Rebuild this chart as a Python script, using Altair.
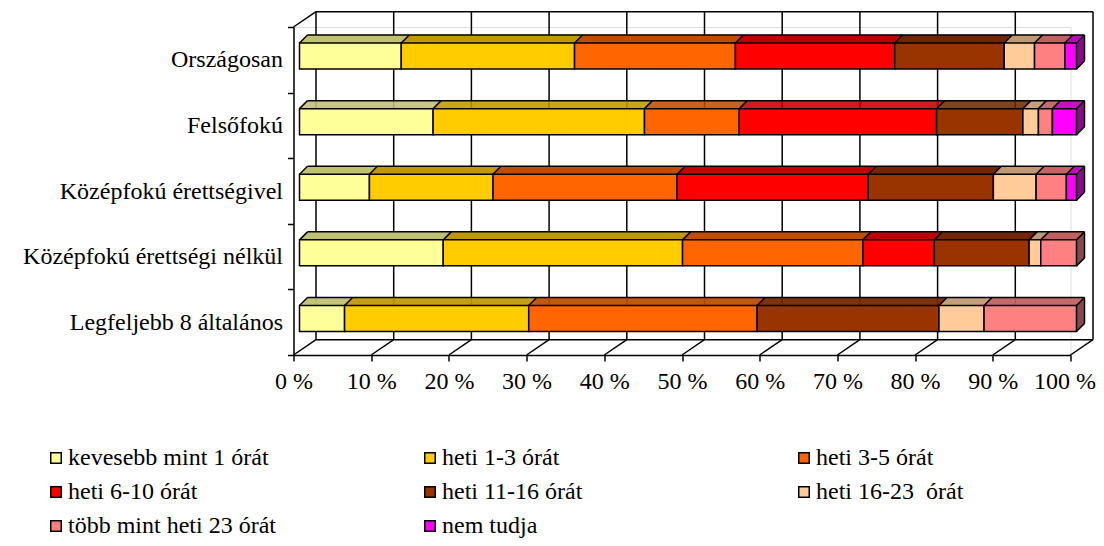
import altair as alt
import pandas as pd

# ---------------- data ----------------
categories = [
    "Országosan",
    "Felsőfokú",
    "Középfokú érettségivel",
    "Középfokú érettségi nélkül",
    "Legfeljebb 8 általános",
]
series = [
    "kevesebb mint 1 órát",
    "heti 1-3 órát",
    "heti 3-5 órát",
    "heti 6-10 órát",
    "heti 11-16 órát",
    "heti 16-23\u00a0 órát",
    "több mint heti 23 órát",
    "nem tudja",
]
v_kevesebb = [13.1, 17.2, 9.0, 18.5, 5.8]
v_1_3 = [22.3, 27.2, 15.9, 30.8, 23.7]
v_3_5 = [20.7, 12.2, 23.7, 23.2, 29.4]
v_6_10 = [20.5, 25.4, 24.6, 9.2, 0.0]
v_11_16 = [14.1, 11.1, 16.1, 12.2, 23.4]
v_16_23 = [3.9, 2.0, 5.5, 1.5, 5.8]
v_tobb = [3.9, 1.8, 3.9, 4.6, 11.9]
v_nem = [1.5, 3.1, 1.3, 0.0, 0.0]
values = [v_kevesebb, v_1_3, v_3_5, v_6_10, v_11_16, v_16_23, v_tobb, v_nem]
tick_values = list(range(0, 101, 10))

# ---------------- styles ----------------
front_colors = ["#FFFF99", "#FFCC00", "#FF6600", "#FF0000", "#993300", "#FFCC99", "#FF8080", "#FF00FF"]
top_colors = ["#C0C073", "#C09900", "#C04D00", "#C00000", "#732600", "#C09973", "#C06060", "#C000C0"]
side_colors = ["#808050", "#806600", "#803300", "#800000", "#4D1A00", "#806650", "#804040", "#800080"]

FONT = "Liberation Serif"
FS = 24          # axis labels
LFS = 24         # legend labels
W, H = 777, 328
DXW, DYW = 22.5, -15.3       # wall depth offset
BX, BY = 6, -3.75            # bar front-face offset
D = 8                        # bar depth
BAR = 26                     # bar thickness
LW = 1.5

rows = []
for ci, cat in enumerate(categories):
    cum = 0.0
    for si, s in enumerate(series):
        v = values[si][ci]
        if v > 0:
            rows.append(dict(cat=cat, series=s, start=cum, end=cum + v,
                             top=top_colors[si], side=side_colors[si], order=si))
        cum += v
seg = pd.DataFrame(rows)
last = seg.loc[seg.groupby("cat")["order"].idxmax()].reset_index(drop=True)
rowdf = seg.groupby("cat", as_index=False).agg(s=("start", "min"), e=("end", "max"))
bounds = pd.concat([
    seg[["cat", "start"]].rename(columns={"start": "b"}),
    seg[["cat", "end"]].rename(columns={"end": "b"}),
]).drop_duplicates().reset_index(drop=True)
ticks = pd.DataFrame({"v": tick_values})
span = pd.DataFrame({"a": [tick_values[0]], "b": [tick_values[-1]]})

xs = alt.Scale(domain=[0, 100], nice=False, zero=False)
ys = alt.Scale(domain=categories, paddingInner=0, paddingOuter=0)

def X(f):
    return alt.X(f, scale=xs, title=None)

def Y(f):
    return alt.Y(f, scale=ys, sort=categories, title=None)

layers = []
# ---------- 3D frame (walls / floor) ----------
layers.append(alt.Chart(ticks).mark_rule(color="black", strokeWidth=LW, xOffset=DXW, yOffset=DYW, y2Offset=DYW)
              .encode(x=X("v:Q"), y=alt.value(0), y2=alt.value(H)))
layers.append(alt.Chart(ticks).mark_rule(color="black", strokeWidth=LW, x2Offset=DXW, y2Offset=DYW)
              .encode(x=X("v:Q"), x2="v:Q", y=alt.value(H), y2=alt.value(H)))
layers.append(alt.Chart(span).mark_rule(color="black", strokeWidth=LW, xOffset=DXW, x2Offset=DXW, yOffset=DYW)
              .encode(x=X("a:Q"), x2="b:Q", y=alt.value(0)))
layers.append(alt.Chart(span).mark_rule(color="black", strokeWidth=LW, xOffset=DXW, x2Offset=DXW, yOffset=DYW)
              .encode(x=X("a:Q"), x2="b:Q", y=alt.value(H)))
layers.append(alt.Chart(span).mark_rule(color="black", strokeWidth=LW, x2Offset=DXW, y2Offset=DYW)
              .encode(x=X("a:Q"), x2="a:Q", y=alt.value(0), y2=alt.value(0)))

# ---------- top faces (thin slices forming the slanted face) ----------
top_edge = BY - BAR / 2
for k in range(D):
    layers.append(alt.Chart(seg).mark_bar(size=1.4, xOffset=BX + k + 0.5, x2Offset=BX + k + 0.5,
                                          yOffset=top_edge - k - 0.5)
                  .encode(x=X("start:Q"), x2="end:Q", y=Y("cat:N"),
                          fill=alt.Fill("top:N", scale=None, legend=None)))
# ---------- right side faces ----------
for j in range(D):
    layers.append(alt.Chart(last).mark_bar(size=BAR, xOffset=BX + j, x2Offset=BX + j + 1.4,
                                           yOffset=BY - j - 0.5)
                  .encode(x=X("end:Q"), x2="end:Q", y=Y("cat:N"),
                          fill=alt.Fill("side:N", scale=None, legend=None)))

# ---------- front faces (with axes and legend) ----------
front = alt.Chart(seg).mark_bar(size=BAR, xOffset=BX, x2Offset=BX, yOffset=BY,
                                stroke="black", strokeWidth=LW).encode(
    x=alt.X("start:Q", scale=xs, title=None, axis=alt.Axis(
        values=tick_values, labelExpr="datum.value + ' %'", title=None, grid=False,
        domainColor="black", domainWidth=LW, tickColor="black", tickWidth=LW, tickSize=6,
        labelFont=FONT, labelFontSize=FS, labelColor="black", labelPadding=8,
        labelOffset={"condition": {"test": "datum.value == 100", "value": -6}, "value": 0},
        labelFlush=False, labelOverlap=False)),
    x2="end:Q",
    y=alt.Y("cat:N", scale=ys, sort=categories, title=None, axis=alt.Axis(
        title=None, tickBand="extent", domainColor="black", domainWidth=LW,
        tickColor="black", tickWidth=LW, tickSize=6, labelFont=FONT, labelFontSize=FS,
        labelColor="black", labelPadding=5, labelLimit=400)),
    color=alt.Color("series:N", scale=alt.Scale(domain=series, range=front_colors),
                    legend=alt.Legend(
                        orient="none", legendX=-249.5, legendY=419, columns=3, direction="horizontal",
                        title=None,
                        symbolType="square", symbolSize=110, symbolStrokeColor="black",
                        symbolStrokeWidth=LW, symbolOpacity=1, labelFont=FONT, labelFontSize=LFS,
                        labelColor="black", labelLimit=0, columnPadding=142, rowPadding=10,
                        gridAlign="all", labelOffset=0, symbolOffset=0)),
)
layers.append(front)

# ---------- outline edges of the 3D bars ----------
rule = dict(color="black", strokeWidth=LW)
layers.append(alt.Chart(rowdf).mark_rule(xOffset=BX + D, x2Offset=BX + D, yOffset=top_edge - D, **rule)
              .encode(x=X("s:Q"), x2="e:Q", y=Y("cat:N")))
layers.append(alt.Chart(bounds).mark_rule(xOffset=BX, x2Offset=BX + D, yOffset=top_edge,
                                          y2Offset=top_edge - D, **rule)
              .encode(x=X("b:Q"), x2="b:Q", y=Y("cat:N"), y2="cat:N"))
layers.append(alt.Chart(rowdf).mark_rule(xOffset=BX + D, x2Offset=BX + D, yOffset=top_edge - D,
                                         y2Offset=BY + BAR / 2 - D, **rule)
              .encode(x=X("e:Q"), x2="e:Q", y=Y("cat:N"), y2="cat:N"))
layers.append(alt.Chart(rowdf).mark_rule(xOffset=BX, x2Offset=BX + D, yOffset=BY + BAR / 2,
                                         y2Offset=BY + BAR / 2 - D, **rule)
              .encode(x=X("e:Q"), x2="e:Q", y=Y("cat:N"), y2="cat:N"))

chart = alt.layer(*layers).properties(
    width=W, height=H,
    autosize=alt.AutoSizeParams(type="none"),
    padding={"left": 285.5, "top": 19, "right": 1088 - 285.5 - W, "bottom": 530 - 19 - H},
    background="white",
).configure_view(stroke=None).configure(font=FONT)

chart.save("out.html", embed_options={"renderer": "svg", "actions": False})
